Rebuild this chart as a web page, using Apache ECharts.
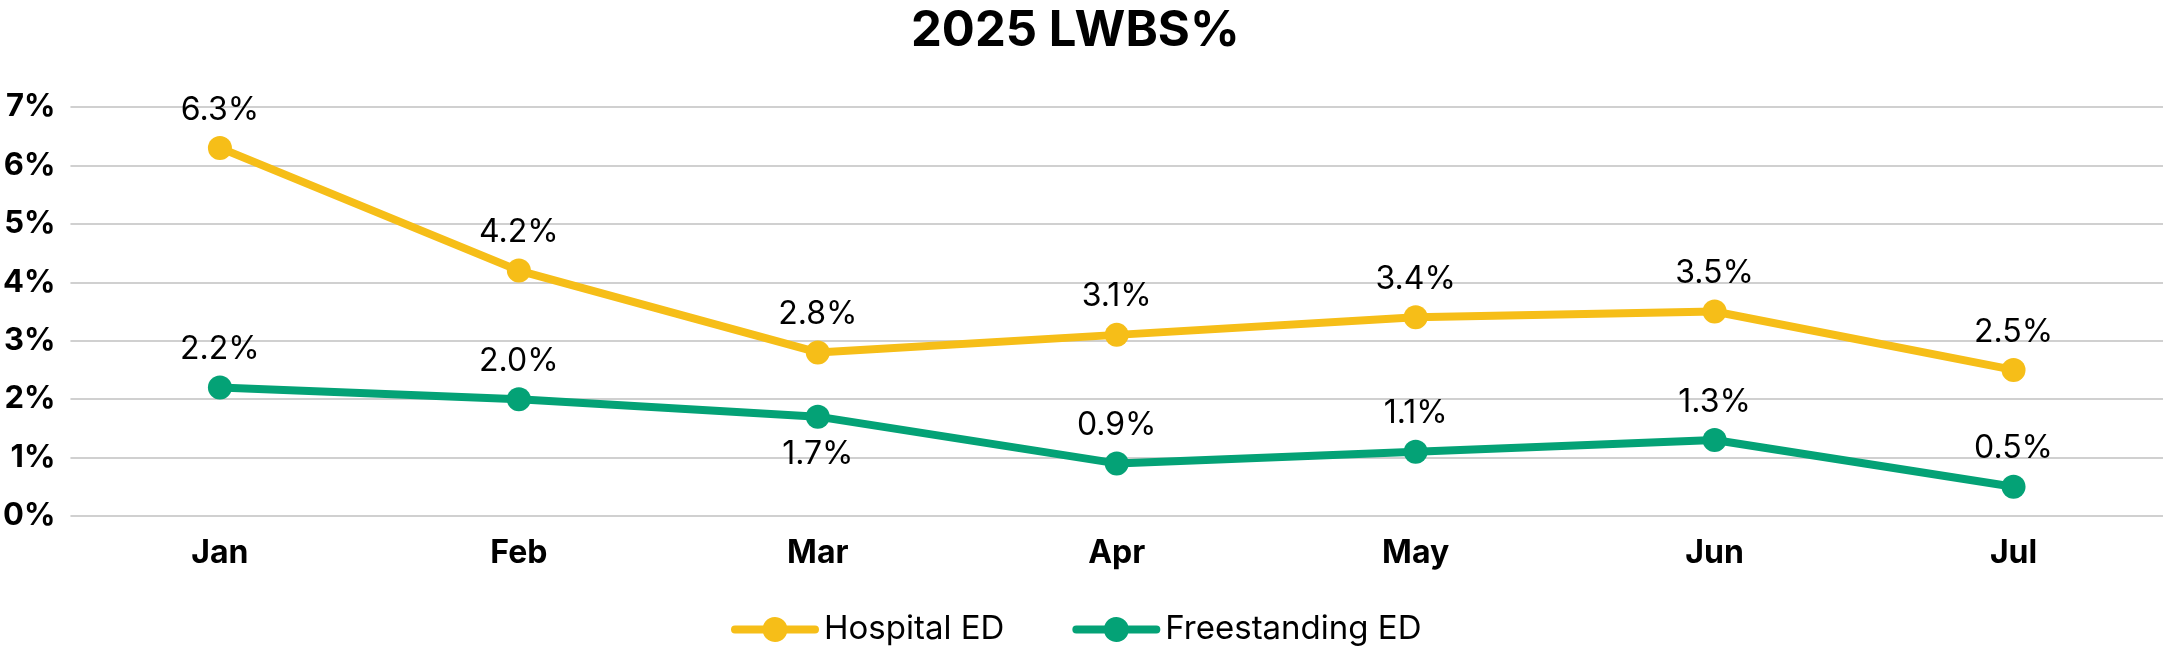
<!DOCTYPE html>
<html><head><meta charset="utf-8">
<script src="https://cdn.jsdelivr.net/npm/echarts@6/dist/echarts.min.js"></script>
<style>html,body{margin:0;padding:0;background:#fff}#c{width:2164px;height:650px}</style>
</head><body><div id="c"></div>
<script>
const categories = ['Jan','Feb','Mar','Apr','May','Jun','Jul'];
const hospitalED = [6.3, 4.2, 2.8, 3.1, 3.4, 3.5, 2.5];
const freestandingED = [2.2, 2.0, 1.7, 0.9, 1.1, 1.3, 0.5];
const freestandingBelow = ['Mar'];
const yTicks = [0,1,2,3,4,5,6,7];

const FONT = 'Inter, "Noto Sans", sans-serif';
const LEGEND_ICON = 'path://M4,9 H32.16 A12.5,12.5 0 0,1 55.84,9 H84 A4,4 0 0,1 84,17 H55.84 A12.5,12.5 0 0,1 32.16,17 H4 A4,4 0 0,1 4,9 Z';
const chart = echarts.init(document.getElementById('c'), null, {renderer:'canvas'});
const lblStyle = {show:true, position:'top', distance:10, fontFamily:FONT, fontSize:32, color:'#000',
  formatter: p => p.value.toFixed(1) + '%'};
chart.setOption({
  animation:false,
  title:{text:'2025 LWBS%', left:906, top:2, textStyle:{fontFamily:FONT, fontSize:49, fontWeight:'bold', color:'#000'}},
  legend:{top:608, left:726, itemWidth:88, itemHeight:26, itemGap:68, icon:LEGEND_ICON,
    textStyle:{fontFamily:FONT, fontSize:33, color:'#000'},
    data:['Hospital ED','Freestanding ED']},
  grid:{left:68, right:1, top:107, bottom:134, containLabel:false},
  xAxis:{type:'category', data:categories, boundaryGap:true,
    axisLine:{show:false}, axisTick:{show:false},
    axisLabel:{margin:21, fontFamily:FONT, fontSize:32, fontWeight:'bold', color:'#000'}},
  yAxis:{type:'value', min:yTicks[0], max:yTicks[yTicks.length-1], interval:1,
    axisLine:{show:false}, axisTick:{show:false},
    splitLine:{lineStyle:{color:'#d0d0d0', width:2}},
    axisLabel:{margin:15, fontFamily:FONT, fontSize:31, fontWeight:'bold', color:'#000', formatter:v=>v+'%'}},
  series:[
    {name:'Hospital ED', type:'line', data:hospitalED, color:'#F6BE18', symbol:'circle', symbolSize:24,
      lineStyle:{width:8}, label:lblStyle},
    {name:'Freestanding ED', type:'line', data:freestandingED.map((v,i)=>freestandingBelow.includes(categories[i])?{value:v,label:{position:'bottom'}}:v),
      color:'#04A276', symbol:'circle', symbolSize:24, lineStyle:{width:8}, label:lblStyle}
  ]
});
</script></body></html>
